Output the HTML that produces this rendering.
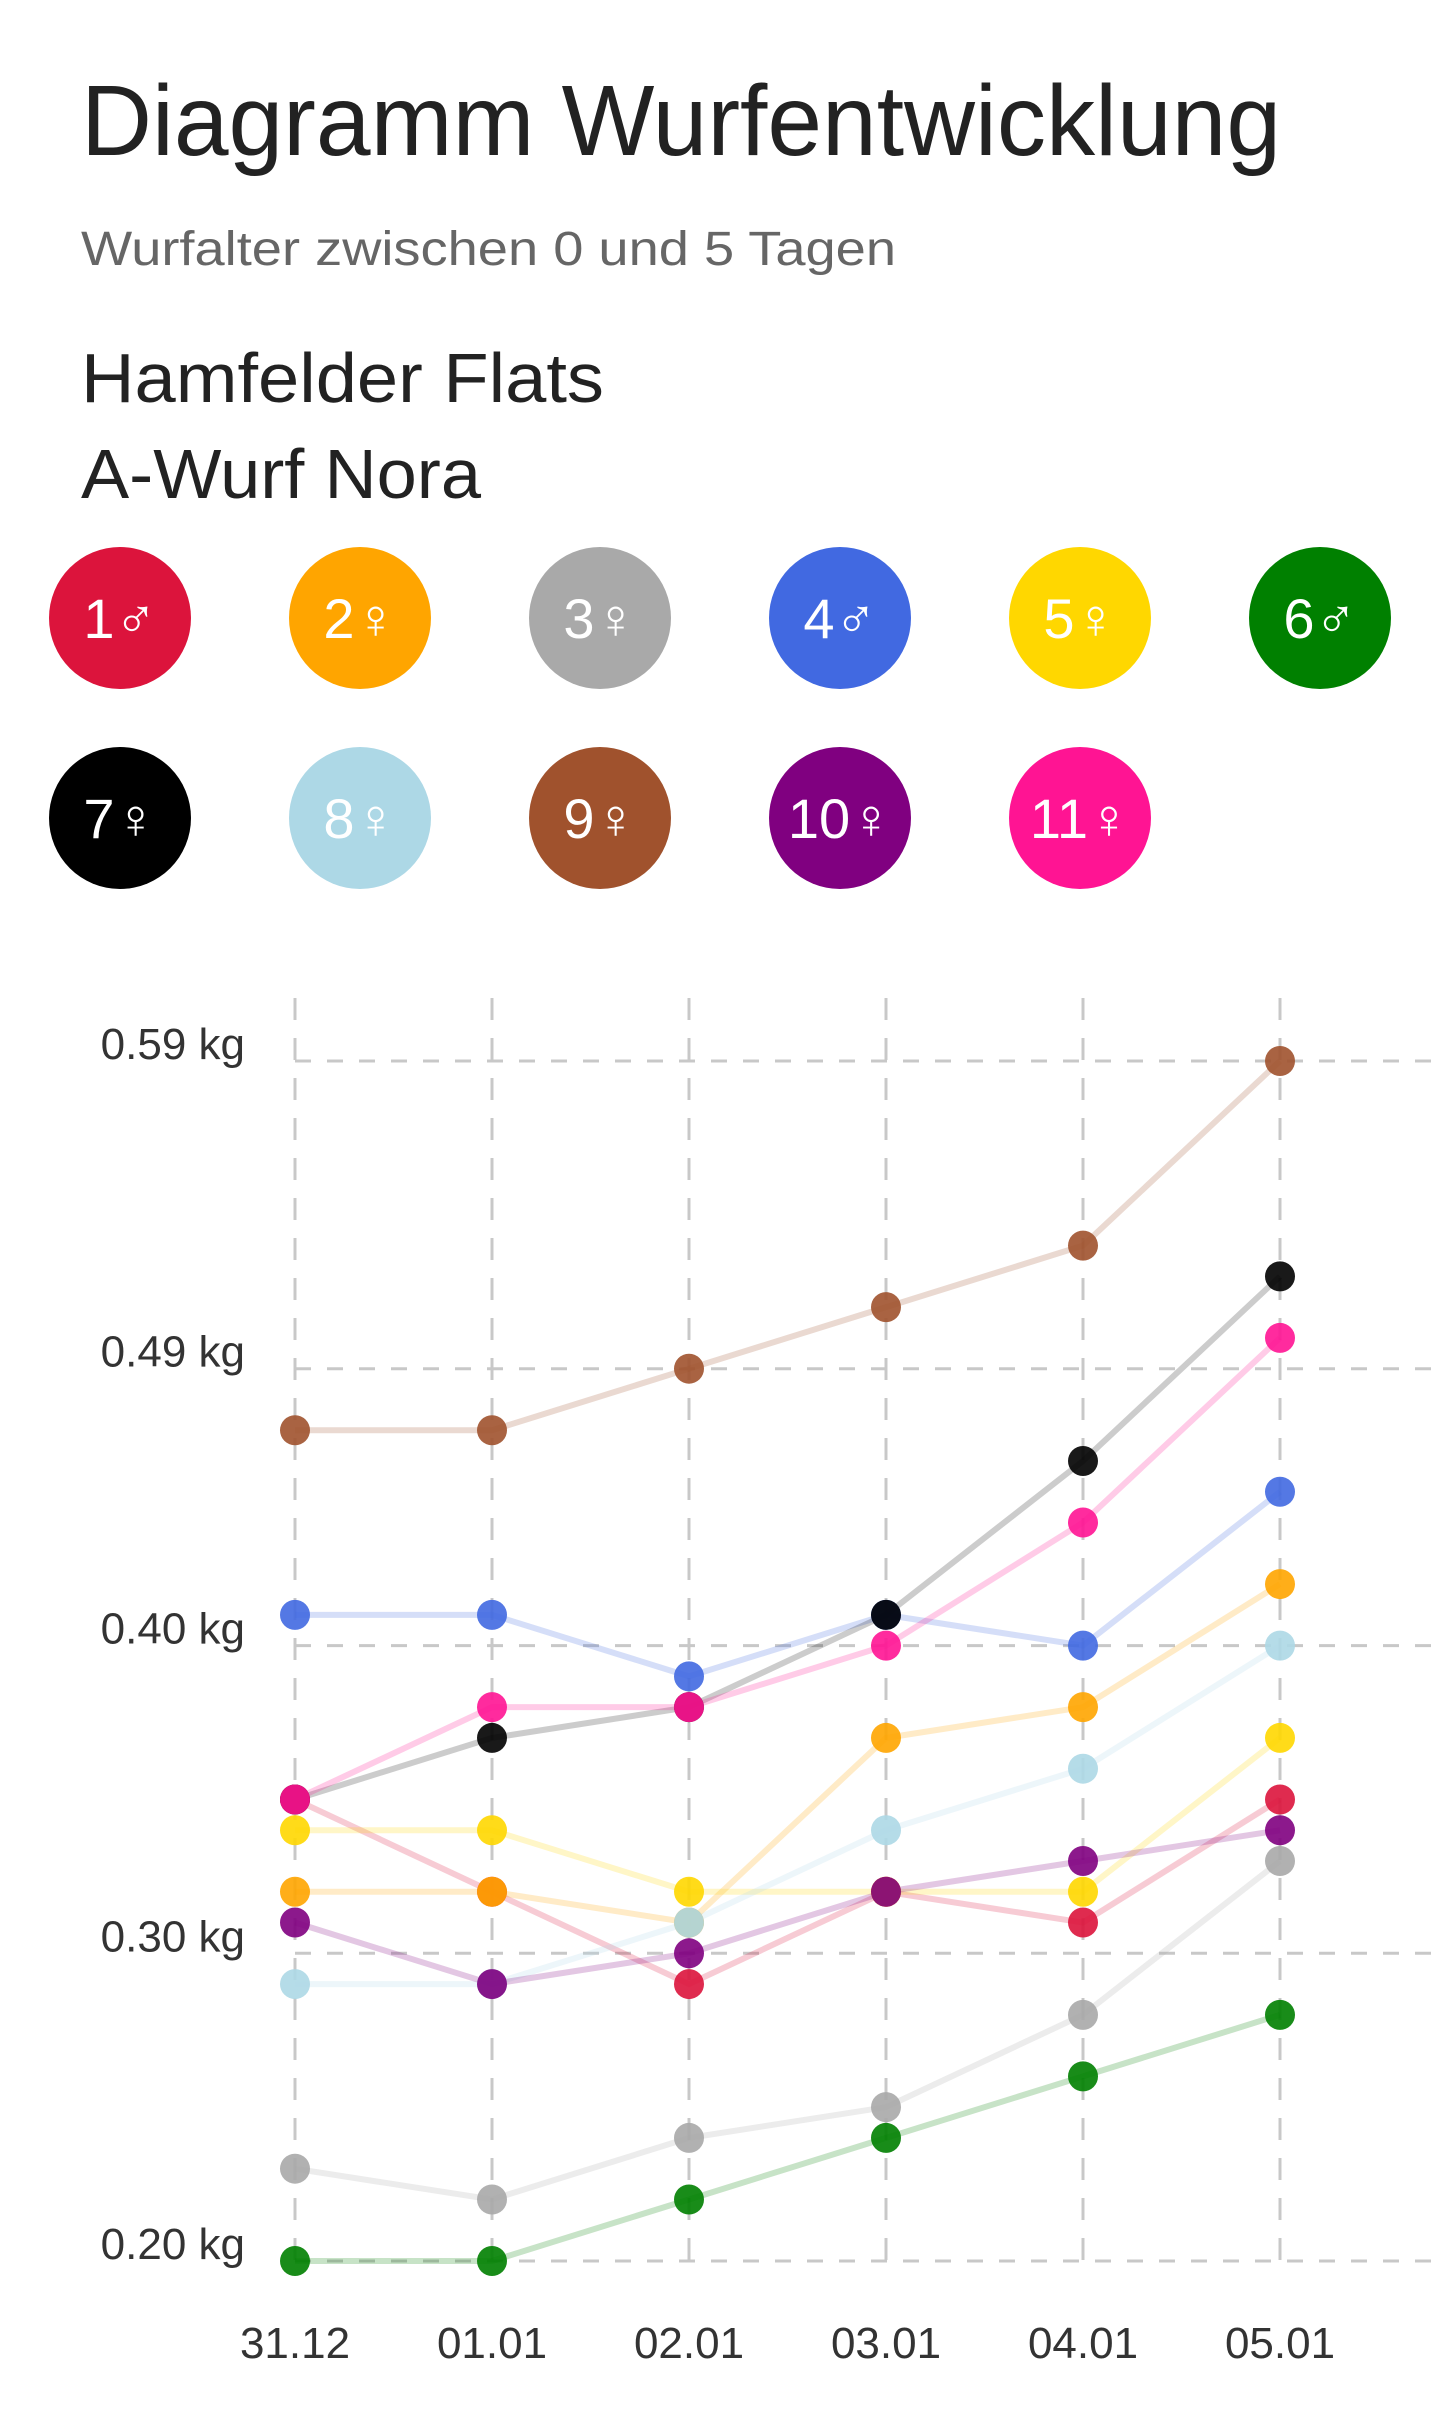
<!DOCTYPE html>
<html><head><meta charset="utf-8"><style>
html,body{margin:0;padding:0;background:#fff;}
svg{display:block;font-family:"Liberation Sans",sans-serif;}
</style></head><body>
<svg id="chart" width="1440" height="2432" viewBox="0 0 1440 2432" xmlns="http://www.w3.org/2000/svg">
<text x="81" y="155" font-size="100" fill="#222" textLength="1200" lengthAdjust="spacingAndGlyphs">Diagramm Wurfentwicklung</text>
<text x="81" y="265" font-size="48" fill="#666" textLength="815" lengthAdjust="spacingAndGlyphs">Wurfalter zwischen 0 und 5 Tagen</text>
<text x="81" y="402" font-size="70" fill="#222" textLength="523" lengthAdjust="spacingAndGlyphs">Hamfelder Flats</text>
<text x="81" y="498" font-size="70" fill="#222" textLength="400" lengthAdjust="spacingAndGlyphs">A-Wurf Nora</text>
<g id="legend"></g>
<g id="grid"></g>
<g id="axes"></g>
<g id="lines"></g>
<g id="dots"></g>
</svg>
<script>
const categories = ["31.12","01.01","02.01","03.01","04.01","05.01"];
const yTicks = [0.20,0.30,0.40,0.49,0.59];
const yTickLabels = ["0.20 kg","0.30 kg","0.40 kg","0.49 kg","0.59 kg"];
const puppyLabels = ["1♂","2♀","3♀","4♂","5♀","6♂","7♀","8♀","9♀","10♀","11♀"];
const puppyColors = ["#DC143C","#FFA500","#A9A9A9","#4169E1","#FFD700","#008000","#000000","#ADD8E6","#A0522D","#800080","#FF1493"];
const s1 = [0.35,0.32,0.29,0.32,0.31,0.35];
const s2 = [0.32,0.32,0.31,0.37,0.38,0.42];
const s3 = [0.23,0.22,0.24,0.25,0.28,0.33];
const s4 = [0.41,0.41,0.39,0.41,0.40,0.45];
const s5 = [0.34,0.34,0.32,0.32,0.32,0.37];
const s6 = [0.20,0.20,0.22,0.24,0.26,0.28];
const s7 = [0.35,0.37,0.38,0.41,0.46,0.52];
const s8 = [0.29,0.29,0.31,0.34,0.36,0.40];
const s9 = [0.47,0.47,0.49,0.51,0.53,0.59];
const s10 = [0.31,0.29,0.30,0.32,0.33,0.34];
const s11 = [0.35,0.38,0.38,0.40,0.44,0.50];
const series = [s1,s2,s3,s4,s5,s6,s7,s8,s9,s10,s11];

const NS="http://www.w3.org/2000/svg";
function mk(tag,attrs,parent){const e=document.createElementNS(NS,tag);for(const k in attrs)e.setAttribute(k,attrs[k]);parent.appendChild(e);return e;}
const X0=295,X1=1280,Y0=2261,Y1=1061,V0=0.20,V1=0.59;
function xs(i){return X0+(X1-X0)*i/(categories.length-1);}
function ys(v){return Y0-(v-V0)/(V1-V0)*(Y0-Y1);}

// legend
const lg=document.getElementById('legend');
puppyLabels.forEach((lab,i)=>{
  const cx=120+240*(i%6), cy=618+200*Math.floor(i/6);
  const g=mk('g',{},lg);
  
  
  mk('circle',{cx:cx,cy:cy,r:71,fill:puppyColors[i]},g);
  const t=mk('text',{x:cx,y:cy+20,'font-size':56,fill:'#fff','text-anchor':'middle'},g);
  t.textContent=lab;
});

// grid
const gr=document.getElementById('grid');
yTicks.forEach((v,i)=>{
  const l=mk('line',{x1:X0,x2:1440,y1:ys(v),y2:ys(v),stroke:'#c8c8c8','stroke-width':3,'stroke-dasharray':'16 16'},gr);
  
  
});
categories.forEach((c,i)=>{
  const l=mk('line',{x1:xs(i),x2:xs(i),y1:998,y2:2269,stroke:'#c8c8c8','stroke-width':3,'stroke-dasharray':'22 18'},gr);
  
  
});
const ax=document.getElementById('axes');
yTicks.forEach((v,i)=>{
  const t=mk('text',{x:245,y:ys(v)-2,'font-size':44,fill:'#333','text-anchor':'end'},ax);
  
  
  t.textContent=yTickLabels[i];
});
categories.forEach((c,i)=>{
  const t=mk('text',{x:xs(i),y:2358,'font-size':44,fill:'#333','text-anchor':'middle'},ax);
  
  
  t.textContent=c;
});

// series
const ln=document.getElementById('lines'), dt=document.getElementById('dots');
series.forEach((s,k)=>{
  const pts=s.map((v,i)=>xs(i)+','+ys(v)).join(' ');
  const p=mk('polyline',{points:pts,fill:'none',stroke:puppyColors[k],'stroke-width':6,'stroke-opacity':k===6?0.2:0.22},ln);
  
  
});
series.forEach((s,k)=>{
  s.forEach((v,i)=>{
    const c=mk('circle',{cx:xs(i),cy:ys(v),r:15,fill:puppyColors[k],'fill-opacity':0.9},dt);
    
    
  });
});
</script>
</body></html>
